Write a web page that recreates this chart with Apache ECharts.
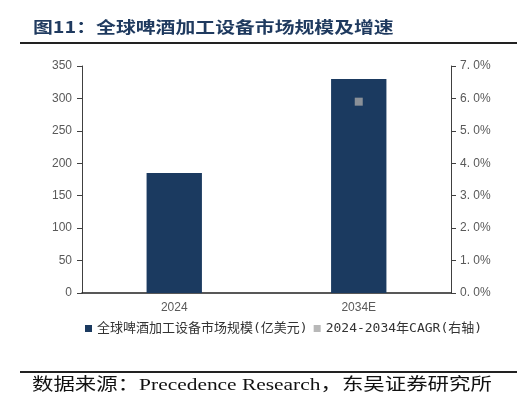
<!DOCTYPE html>
<html>
<head>
<meta charset="utf-8">
<script src="https://cdn.jsdelivr.net/npm/echarts@6/dist/echarts.min.js"></script>
<style>
  html, body { margin: 0; padding: 0; background: #fff; }
  #main { width: 526px; height: 406px; }
</style>
</head>
<body>
<div id="main"></div>
<script>
// 数据
var categories = ['2024', '2034E'];
var marketSize = [185, 330];       // 全球啤酒加工设备市场规模(亿美元)
var cagr = ['-', 5.9];             // 2024-2034年CAGR(右轴), %

var chart = echarts.init(document.getElementById('main'));

var option = {
  backgroundColor: '#fff',
  animation: false,
  graphic: [
    // 标题（原图文字横向略拉宽）
    {
      type: 'text', x: 33, y: 27, scaleX: 1.24,
      style: {
        text: '图11：全球啤酒加工设备市场规模及增速',
        fontFamily: 'Noto Sans CJK SC', fontSize: 16, fontWeight: 'bold',
        fill: '#1f3a5f', verticalAlign: 'middle'
      }
    },
    { type: 'line', shape: { x1: 20, y1: 43, x2: 517, y2: 43 }, style: { stroke: '#222', lineWidth: 2 } },
    { type: 'line', shape: { x1: 20, y1: 372, x2: 517, y2: 372 }, style: { stroke: '#222', lineWidth: 2 } },
    {
      type: 'text', x: 32, y: 386, scaleX: 1.26,
      style: {
        text: '数据来源：Precedence Research，东吴证券研究所',
        fontFamily: '"Liberation Serif", "Noto Sans CJK SC"',
        fontSize: 17, fill: '#111', verticalAlign: 'middle'
      }
    }
  ],
  legend: {
    top: 317,
    left: 80,
    itemWidth: 7,
    itemHeight: 7,
    itemGap: 6,
    icon: 'rect',
    textStyle: { fontFamily: '"DejaVu Sans Mono", "Noto Sans CJK SC"', fontSize: 13, color: '#333' },
    data: ['全球啤酒加工设备市场规模(亿美元)', '2024-2034年CAGR(右轴)']
  },
  grid: { left: 82, right: 75, top: 66, bottom: 113 },
  xAxis: {
    type: 'category',
    data: categories,
    axisLine: { lineStyle: { color: '#222', width: 1.5 } },
    axisTick: { show: false },
    axisLabel: { color: '#595959', fontSize: 12, margin: 9, fontFamily: 'Liberation Sans' }
  },
  yAxis: [
    {
      type: 'value', min: 0, max: 350, interval: 50,
      axisLine: { show: true, lineStyle: { color: '#404040' } },
      axisTick: { show: true, length: 5, lineStyle: { color: '#404040' } },
      axisLabel: { color: '#595959', fontSize: 12, margin: 10, fontFamily: 'Liberation Sans' },
      splitLine: { show: false }
    },
    {
      type: 'value', min: 0, max: 7, interval: 1,
      position: 'right',
      axisLine: { show: true, lineStyle: { color: '#404040' } },
      axisTick: { show: true, length: 5, lineStyle: { color: '#404040' } },
      axisLabel: {
        color: '#595959', fontSize: 12, margin: 9, fontFamily: 'Liberation Sans',
        formatter: function (v) { return v.toFixed(1).replace('.', '. ') + '%'; }
      },
      splitLine: { show: false }
    }
  ],
  series: [
    {
      name: '全球啤酒加工设备市场规模(亿美元)',
      type: 'bar',
      barWidth: '30%',
      yAxisIndex: 0,
      itemStyle: { color: '#1b3a60' },
      data: marketSize
    },
    {
      name: '2024-2034年CAGR(右轴)',
      type: 'scatter',
      yAxisIndex: 1,
      symbol: 'rect',
      symbolSize: 8,
      itemStyle: { color: '#a6a6a6' },
      data: cagr
    }
  ]
};

chart.setOption(option);
</script>
</body>
</html>
